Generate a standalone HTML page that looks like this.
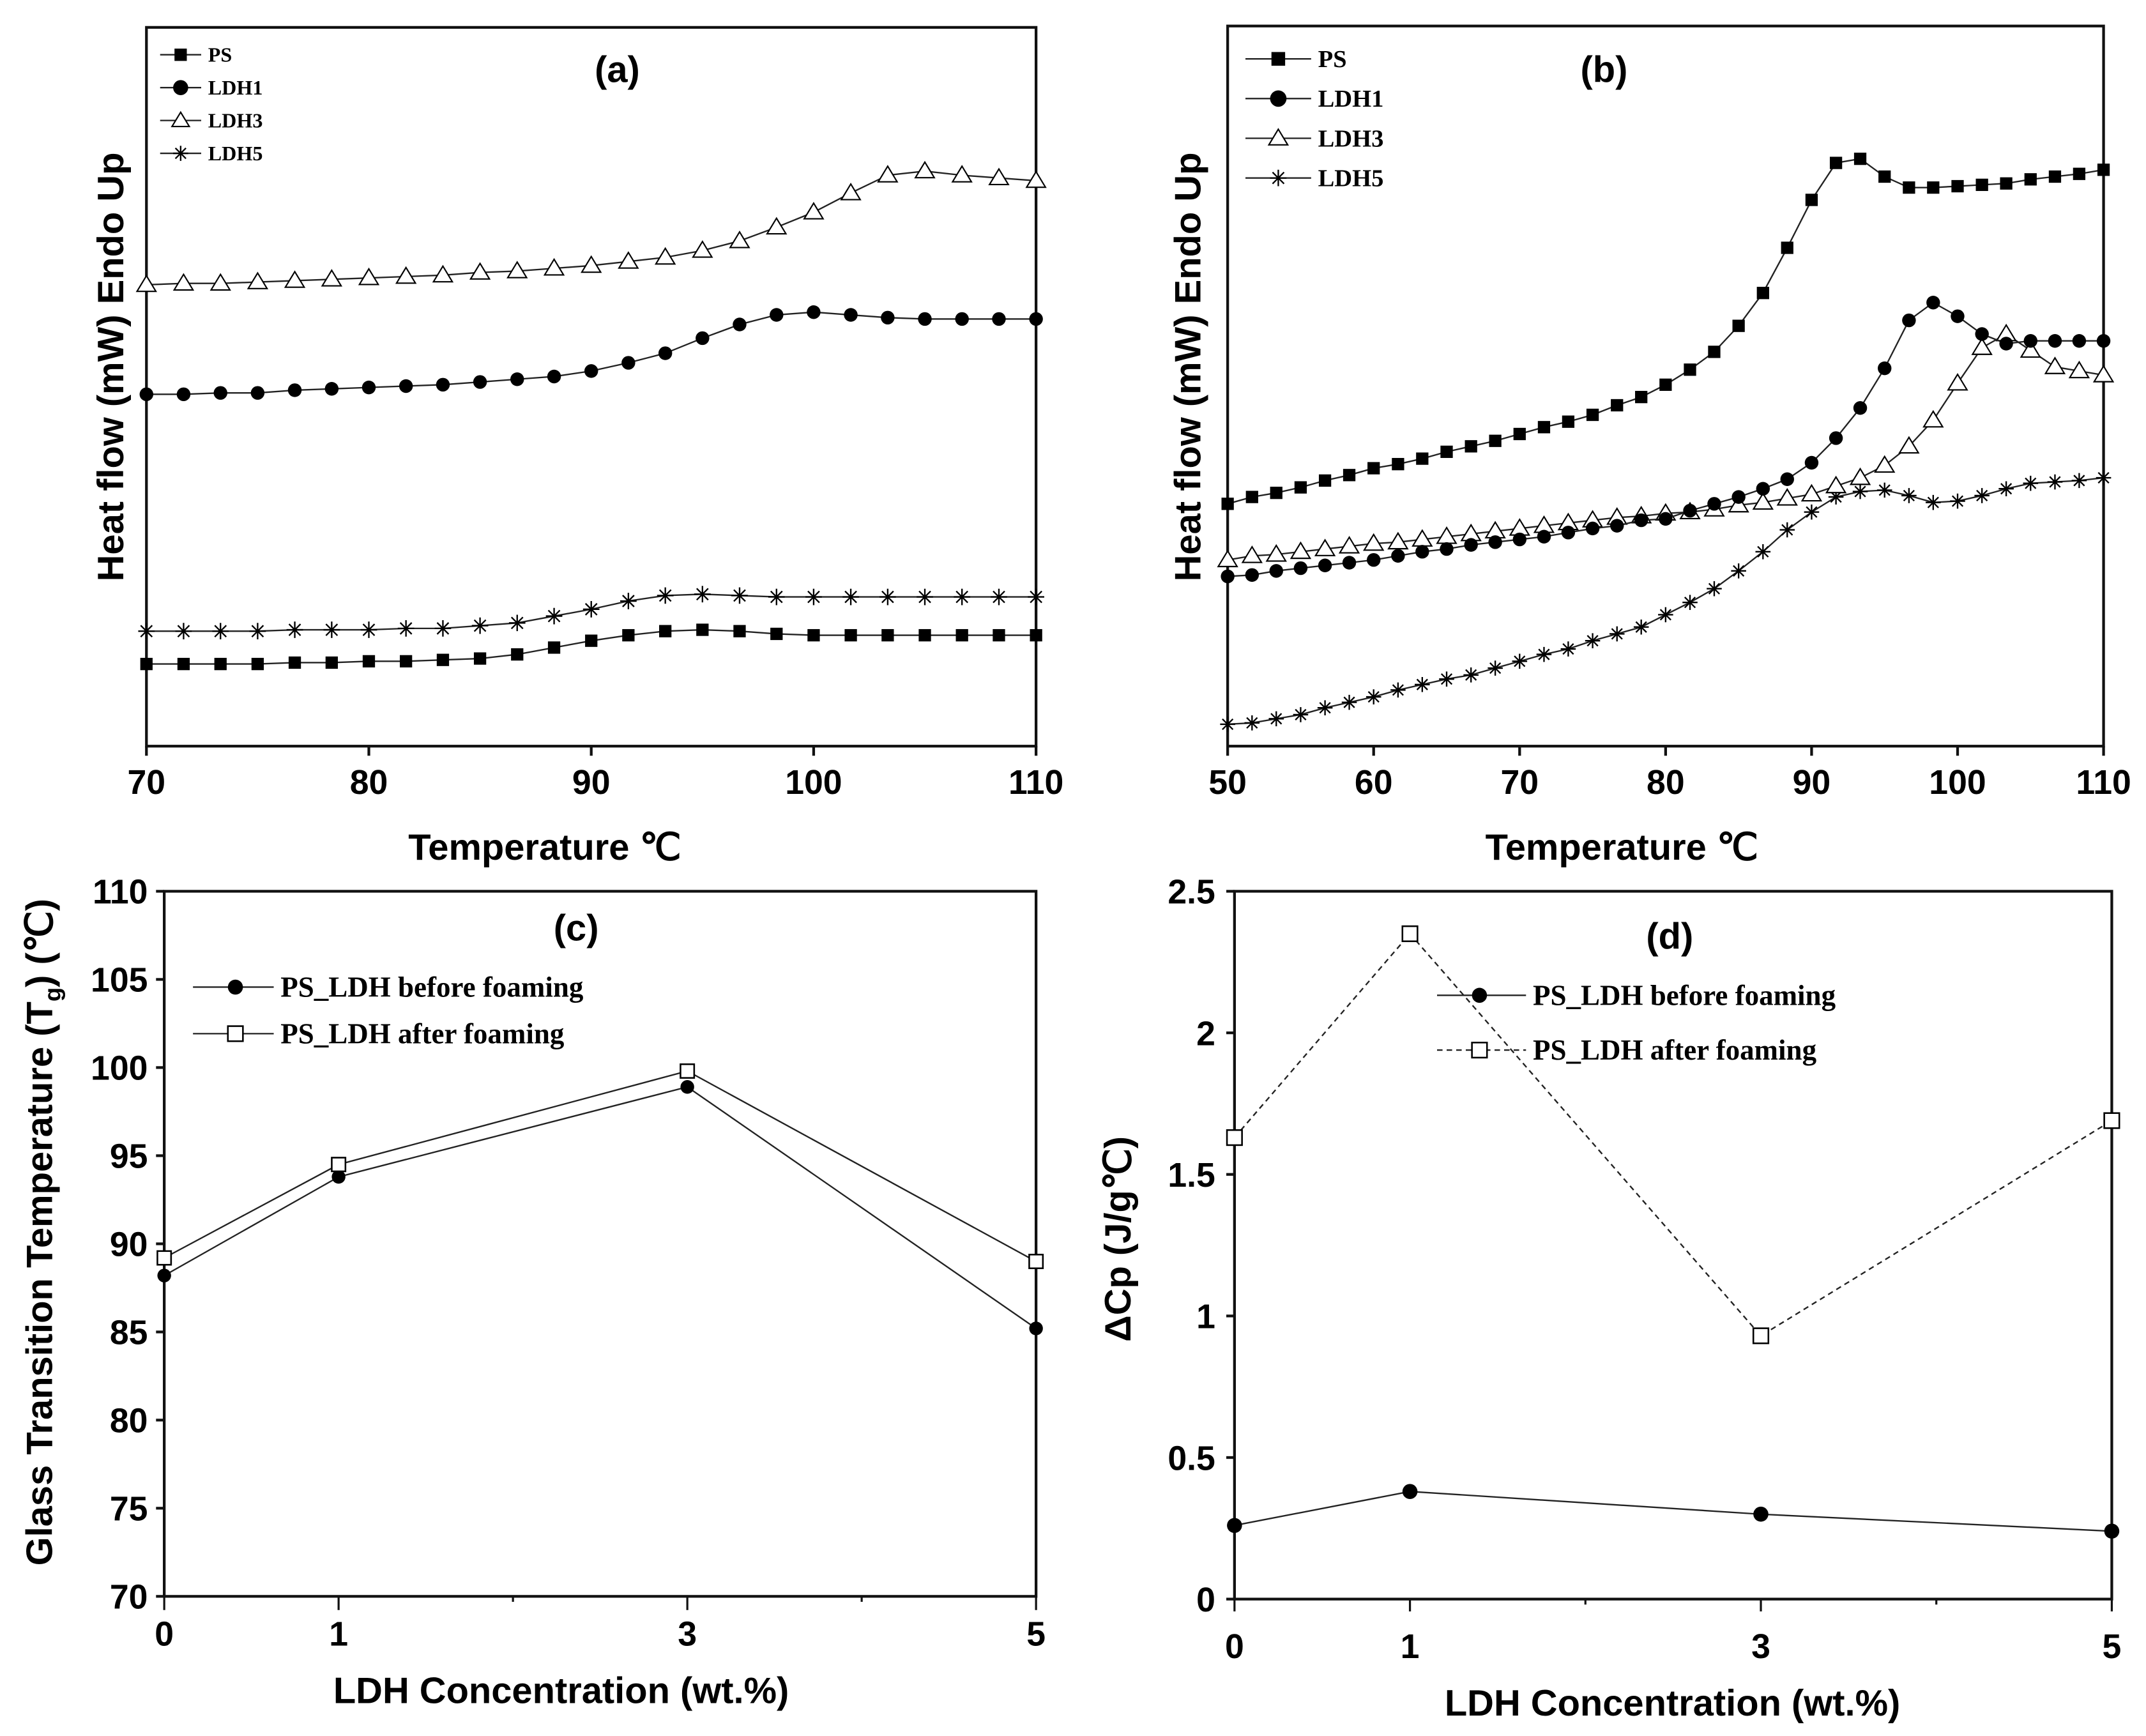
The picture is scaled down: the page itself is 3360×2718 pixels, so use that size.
<!DOCTYPE html>
<html><head><meta charset="utf-8"><style>
html,body{margin:0;padding:0;background:#fff;}
svg{display:block;}
text{font-family:"Liberation Sans",sans-serif;}
.tk{font-size:25px;font-weight:bold;}
.ti{font-size:27px;font-weight:bold;}
.lg{font-family:"Liberation Serif",serif;font-weight:bold;}
</style></head><body>
<svg id="fig" width="3360" height="2718" viewBox="0 0 1568 1268" preserveAspectRatio="none" xmlns="http://www.w3.org/2000/svg"></svg>
<script>
// ---- Panel (a) data: temperature (°C) and heat flow (arbitrary units)
const aTemps = [70,71.67,73.33,75,76.67,78.33,80,81.67,83.33,85,86.67,88.33,90,91.67,93.33,95,96.67,98.33,100,101.67,103.33,105,106.67,108.33,110];
const aPS   = [60,60,60,60,61,61,62,62,63,64,67,72,77,81,84,85,84,82,81,81,81,81,81,81,81];
const aLDH1 = [257,257,258,258,260,261,262,263,264,266,268,270,274,280,287,298,308,315,317,315,313,312,312,312,312];
const aLDH3 = [337,338,338,339,340,341,342,343,344,346,347,349,351,354,357,362,369,379,390,404,417,420,417,415,413];
const aLDH5 = [84,84,84,84,85,85,85,86,86,88,90,95,100,106,110,111,110,109,109,109,109,109,109,109,109];
const aTicks = [70,80,90,100,110];
// ---- Panel (b) data
const bTemps = [50,51.67,53.33,55,56.67,58.33,60,61.67,63.33,65,66.67,68.33,70,71.67,73.33,75,76.67,78.33,80,81.67,83.33,85,86.67,88.33,90,91.67,93.33,95,96.67,98.33,100,101.67,103.33,105,106.67,108.33,110];
const bPS   = [177,182,185,189,194,198,203,206,210,215,219,223,228,233,237,242,249,255,264,275,288,307,331,364,399,426,429,416,408,408,409,410,411,414,416,418,421];
const bLDH1 = [124,125,128,130,132,134,136,139,142,144,147,149,151,153,156,159,161,165,166,172,177,182,188,195,207,225,247,276,311,324,314,301,294,296,296,296,296];
const bLDH3 = [136,139,140,142,144,146,148,149,151,153,155,157,159,161,163,165,167,168,170,171,173,176,178,181,184,190,196,205,219,238,265,291,301,289,277,274,271];
const bLDH5 = [16,17,20,23,28,32,36,41,45,49,52,57,62,67,71,77,82,87,96,105,115,128,142,158,171,182,186,187,183,178,179,183,188,192,193,194,196];
const bTicks = [50,60,70,80,90,100,110];
// ---- Panel (c) data
const cConc = [0,1,3,5];
const cBefore = [88.2,93.8,98.9,85.2];
const cAfter = [89.2,94.5,99.8,89.0];
const cYTicks = [70,75,80,85,90,95,100,105,110];
const cXTicks = [0,1,3,5];
// ---- Panel (d) data
const dConc = [0,1,3,5];
const dBefore = [0.26,0.38,0.30,0.24];
const dAfter = [1.63,2.35,0.93,1.69];
const dYTicks = [0,0.5,1,1.5,2,2.5];
const dYLabels = ["0","0.5","1","1.5","2","2.5"];
const dXTicks = [0,1,3,5];

const NS="http://www.w3.org/2000/svg";
const svg=document.getElementById('fig');
function el(tag,attrs,parent,txt){const e=document.createElementNS(NS,tag);for(const k in attrs)e.setAttribute(k,attrs[k]);if(txt!==undefined)e.textContent=txt;(parent||svg).appendChild(e);return e;}
function lin(d0,d1,r0,r1){return v=>r0+(v-d0)*(r1-r0)/(d1-d0);}

function marker(g,type,x,y,s){
  let m;
  if(type==='sq'){m=el('rect',{x:x-s,y:y-s,width:2*s,height:2*s,fill:'#000'},g);}
  else if(type==='osq'){m=el('rect',{x:x-s,y:y-s,width:2*s,height:2*s,fill:'#fff',stroke:'#000','stroke-width':1.2},g);}
  else if(type==='ci'){m=el('circle',{cx:x,cy:y,r:s,fill:'#000'},g);}
  else if(type==='tri'){m=el('polygon',{points:`${x},${y-s*1.1} ${x-s*1.15},${y+s*0.8} ${x+s*1.15},${y+s*0.8}`,fill:'#fff',stroke:'#000','stroke-width':1},g);}
  else if(type==='star'){m=el('path',{d:`M${x-s},${y}H${x+s}M${x},${y-s}V${y+s}M${x-s*0.7},${y-s*0.7}L${x+s*0.7},${y+s*0.7}M${x-s*0.7},${y+s*0.7}L${x+s*0.7},${y-s*0.7}`,stroke:'#000','stroke-width':1.1,fill:'none'},g);}
  
  
}
function series(g,xs,ys,X,Y,type,s,dash,name){
  const sg=el('g',{},g);
  
  
  const pts=xs.map((x,i)=>X(x).toFixed(1)+','+Y(ys[i]).toFixed(1)).join(' ');
  const a={points:pts,fill:'none',stroke:'#222','stroke-width':1.1};
  if(dash)a['stroke-dasharray']=dash;
  el('polyline',a,sg);
  xs.forEach((x,i)=>marker(sg,type,X(x),Y(ys[i]),s));
}
function box(g,x0,y0,x1,y1){const b=el('rect',{x:x0,y:y0,width:x1-x0,height:y1-y0,fill:'none',stroke:'#111','stroke-width':2},g);}

// ===== Panel (a)
(function(){
  const g=el('g',{});
  const x0=107,x1=757,y0=20,y1=545;
  const X=lin(70,110,x0,x1),Y=lin(0,525,y1,y0);
  box(g,x0,y0,x1,y1);
  aTicks.forEach(t=>{el('line',{x1:X(t),y1:y1,x2:X(t),y2:y1+7,stroke:'#111','stroke-width':2},g);
    const tx=el('text',{x:X(t),y:580,'text-anchor':'middle',class:'tk'},g,String(t));});
  series(g,aTemps,aLDH3,X,Y,'tri',6,null,'series-ldh3');
  series(g,aTemps,aLDH1,X,Y,'ci',5,null,'series-ldh1');
  series(g,aTemps,aLDH5,X,Y,'star',6,null,'series-ldh5');
  series(g,aTemps,aPS,X,Y,'sq',4.5,null,'series-ps');
  const names=['PS','LDH1','LDH3','LDH5'],types=['sq','ci','tri','star'];
  names.forEach((n,i)=>{const lg=el('g',{},g);
    const y=40+i*24;el('line',{x1:117,y1:y,x2:147,y2:y,stroke:'#222','stroke-width':1.1},lg);marker(lg,types[i],132,y,i===0?4.5:5.5);
    el('text',{x:152,y:y+5,class:'lg','font-size':15},lg,n);});
  const t=el('text',{x:451,y:60,'text-anchor':'middle',class:'ti','font-size':27},g,'(a)');
  const xt=el('text',{x:398,y:628,'text-anchor':'middle',class:'ti'},g,'Temperature ℃');
  const yt=el('text',{x:0,y:0,'text-anchor':'middle',class:'ti',transform:'translate(90,268) rotate(-90)'},g,'Heat flow (mW) Endo Up');
})();

// ===== Panel (b)
(function(){
  const g=el('g',{});
  const x0=897,x1=1537,y0=19,y1=545;
  const X=lin(50,110,x0,x1),Y=lin(0,525,y1,y1-525);
  box(g,x0,y0,x1,y1);
  bTicks.forEach(t=>{el('line',{x1:X(t),y1:y1,x2:X(t),y2:y1+7,stroke:'#111','stroke-width':2},g);
    const tx=el('text',{x:X(t),y:580,'text-anchor':'middle',class:'tk'},g,String(t));});
  series(g,bTemps,bLDH5,X,Y,'star',5.5,null,'series-ldh5');
  series(g,bTemps,bLDH3,X,Y,'tri',6,null,'series-ldh3');
  series(g,bTemps,bLDH1,X,Y,'ci',5,null,'series-ldh1');
  series(g,bTemps,bPS,X,Y,'sq',4.5,null,'series-ps');
  const names=['PS','LDH1','LDH3','LDH5'],types=['sq','ci','tri','star'];
  names.forEach((n,i)=>{const lg=el('g',{},g);
    const y=43+i*29;el('line',{x1:910,y1:y,x2:958,y2:y,stroke:'#222','stroke-width':1.1},lg);marker(lg,types[i],934,y,i===0?5:6);
    el('text',{x:963,y:y+6,class:'lg','font-size':18},lg,n);});
  const t=el('text',{x:1172,y:60,'text-anchor':'middle',class:'ti','font-size':27},g,'(b)');
  const xt=el('text',{x:1185,y:628,'text-anchor':'middle',class:'ti'},g,'Temperature ℃');
  const yt=el('text',{x:0,y:0,'text-anchor':'middle',class:'ti',transform:'translate(877,268) rotate(-90)'},g,'Heat flow (mW) Endo Up');
})();

// ===== Panel (c)
(function(){
  const g=el('g',{});
  const x0=120,x1=757,y0=651,y1=1166;
  const X=lin(0,5,x0,x1),Y=lin(70,110,y1,y0);
  box(g,x0,y0,x1,y1);
  cYTicks.forEach(t=>{el('line',{x1:x0,y1:Y(t),x2:x0-6,y2:Y(t),stroke:'#111','stroke-width':2},g);
    const tx=el('text',{x:x0-12,y:Y(t)+9,'text-anchor':'end',class:'tk','font-size':27},g,String(t));});
  [0,1,2,3,4,5].forEach(t=>el('line',{x1:X(t),y1:y1,x2:X(t),y2:y1+(cXTicks.includes(t)?10:4),stroke:'#111','stroke-width':1.5},g));
  cXTicks.forEach(t=>{const tx=el('text',{x:X(t),y:1202,'text-anchor':'middle',class:'tk','font-size':27},g,String(t));});
  series(g,cConc,cBefore,X,Y,'ci',5,null,'series-before-foaming');
  series(g,cConc,cAfter,X,Y,'osq',5,null,'series-after-foaming');
  [['ci','PS_LDH before foaming',721],['osq','PS_LDH after foaming',755]].forEach(([ty,n,y])=>{const lg=el('g',{},g);
    el('line',{x1:141,y1:y,x2:200,y2:y,stroke:'#222','stroke-width':1.1},lg);marker(lg,ty,172,y,5.5);el('text',{x:205,y:y+7,class:'lg','font-size':21},lg,n);});
  const t=el('text',{x:421,y:687,'text-anchor':'middle',class:'ti'},g,'(c)');
  const xt=el('text',{x:410,y:1244,'text-anchor':'middle',class:'ti'},g,'LDH Concentration (wt.%)');
  const yt=el('text',{x:0,y:0,'text-anchor':'middle',class:'ti','font-size':25,transform:'translate(38,900) rotate(-90)'},g);
  yt.innerHTML='Glass Transition Temperature (T<tspan font-size="17" dy="6">g</tspan><tspan dy="-6">) (℃)</tspan>';
})();

// ===== Panel (d)
(function(){
  const g=el('g',{});
  const x0=902,x1=1543,y0=651,y1=1168;
  const X=lin(0,5,x0,x1),Y=lin(0,2.5,y1,y0);
  box(g,x0,y0,x1,y1);
  dYTicks.forEach((t,i)=>{el('line',{x1:x0,y1:Y(t),x2:x0-6,y2:Y(t),stroke:'#111','stroke-width':2},g);
    const tx=el('text',{x:x0-14,y:Y(t)+9,'text-anchor':'end',class:'tk'},g,dYLabels[i]);});
  [0,1,2,3,4,5].forEach(t=>el('line',{x1:X(t),y1:y1,x2:X(t),y2:y1+(dXTicks.includes(t)?9:4),stroke:'#111','stroke-width':1.5},g));
  dXTicks.forEach(t=>{const tx=el('text',{x:X(t),y:1211,'text-anchor':'middle',class:'tk'},g,String(t));});
  series(g,dConc,dBefore,X,Y,'ci',5.5,null,'series-before-foaming');
  series(g,dConc,dAfter,X,Y,'osq',5.5,'4,3','series-after-foaming');
  [['ci','PS_LDH before foaming',727,null],['osq','PS_LDH after foaming',767,'4,3']].forEach(([ty,n,y,da])=>{const lg=el('g',{},g);
    const a={x1:1050,y1:y,x2:1115,y2:y,stroke:'#222','stroke-width':1.1};if(da)a['stroke-dasharray']=da;el('line',a,lg);marker(lg,ty,1081,y,5.5);el('text',{x:1120,y:y+7,class:'lg','font-size':21},lg,n);});
  const t=el('text',{x:1220,y:693,'text-anchor':'middle',class:'ti'},g,'(d)');
  const xt=el('text',{x:1222,y:1253,'text-anchor':'middle',class:'ti'},g,'LDH Concentration (wt.%)');
  const yt=el('text',{x:0,y:0,'text-anchor':'middle',class:'ti',transform:'translate(826,905) rotate(-90)'},g,'ΔCp (J/g℃)');
})();
</script>
</body></html>
